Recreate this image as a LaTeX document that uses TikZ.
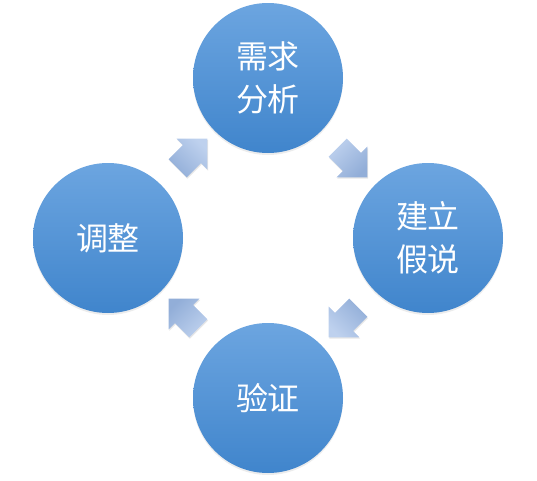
\documentclass[tikz,border=0pt]{standalone}
\usepackage{fontspec}
\newfontfamily\cjk{Noto Sans CJK SC}
\usetikzlibrary{shapes.arrows, shadows, calc}

\definecolor{stageTop}{RGB}{108,165,224}
\definecolor{stageBot}{RGB}{64,133,204}
\definecolor{flowTop}{RGB}{190,209,238}
\definecolor{flowBot}{RGB}{146,174,216}

\begin{document}
\begin{tikzpicture}[x=0.75pt, y=0.75pt,
	% 圆形步骤
	stage/.style={
		circle,
		minimum size=112.5pt,
		inner sep=0pt,
		top color=stageTop,
		bottom color=stageBot,
		text=white,
		align=center,
		font=\cjk\fontsize{24}{32}\selectfont,
		drop shadow={opacity=0.15, shadow xshift=0pt, shadow yshift=-1.5pt}
	},
	% 块状箭头
	flow/.style={
		single arrow,
		minimum height=31.5pt,
		inner xsep=0pt,
		inner ysep=9.4pt,
		single arrow head extend=6.75pt,
		top color=flowTop,
		bottom color=flowBot,
		rotate=#1,
		shading angle=-#1,
		drop shadow={opacity=0.2, shadow xshift=0.5pt, shadow yshift=-1pt}
	}
	]
	\useasboundingbox (0,0) rectangle (537,480);
	
	% 四个步骤
	\node[stage] (need) at (268,402) {需求\\分析};
	\node[stage] (hypo) at (428,242) {建立\\假说};
	\node[stage] (verify) at (268,82) {验证};
	\node[stage] (adjust) at (108,242) {调整};
	
	% 步骤之间的箭头
	\node[flow=45] (a1) at ($(adjust)!0.5!(need)$) {};
	\node[flow=-45] (a2) at ($(need)!0.5!(hypo)$) {};
	\node[flow=-135] (a3) at ($(hypo)!0.5!(verify)$) {};
	\node[flow=135] (a4) at ($(verify)!0.5!(adjust)$) {};
	
\end{tikzpicture}
\end{document}
